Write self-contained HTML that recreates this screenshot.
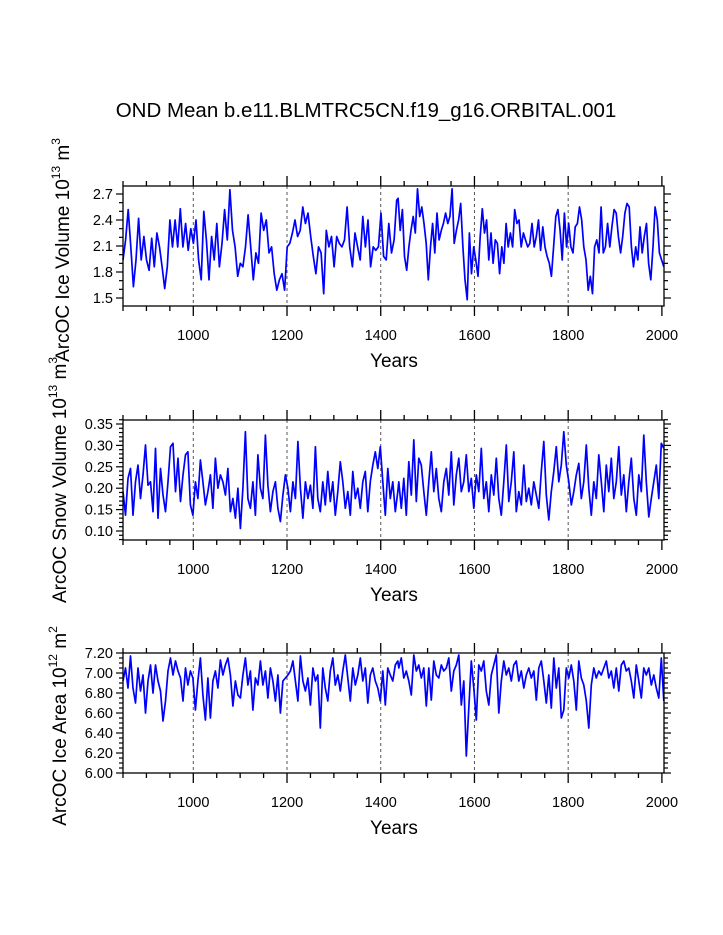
<!DOCTYPE html>
<html><head><meta charset="utf-8"><style>
html,body{margin:0;padding:0;background:#fff;}
svg{display:block;font-family:"Liberation Sans",Arial,sans-serif;}
</style></head><body>
<svg id="chart" width="723" height="935" viewBox="0 0 723 935" xmlns="http://www.w3.org/2000/svg">
<rect x="0" y="0" width="723" height="935" fill="#fff"/>
<text x="366" y="117" font-size="20.5" text-anchor="middle">OND Mean b.e11.BLMTRC5CN.f19_g16.ORBITAL.001</text>
</svg>
<script>
// ---- data ----
const iceVolSegs = [[850,1434,106],[1437,2004,124]];
const iceVolValues = [
1.94,2.17,2.52,2.09,1.63,1.94,2.42,1.94,2.21,1.94,
1.82,2.19,1.86,2.25,2.09,1.86,1.61,1.86,2.40,2.09,
2.40,2.09,2.53,2.09,2.36,2.05,2.30,2.13,2.40,1.94,
1.71,2.50,2.17,1.71,2.21,1.94,2.36,1.86,2.13,2.52,
2.17,2.75,2.28,2.09,1.75,1.90,1.86,2.09,2.46,2.09,
1.71,2.02,1.90,2.48,2.28,2.40,2.02,2.09,1.78,1.59,
1.71,1.78,1.59,2.09,2.13,2.25,2.40,2.21,2.28,2.55,
2.36,2.48,2.21,1.98,1.78,2.09,2.02,1.55,2.28,2.09,
2.21,1.86,2.21,2.13,2.09,2.17,2.55,2.09,1.86,2.25,
2.09,1.94,2.44,2.09,2.40,1.86,2.09,2.05,2.09,2.48,
1.98,1.94,2.36,2.02,2.17,2.63,
2.65,2.28,2.52,1.98,1.82,2.09,2.28,2.44,2.25,2.76,
2.44,2.55,2.36,2.13,1.71,2.09,2.36,2.02,2.48,2.17,
2.28,2.36,2.48,2.36,2.44,2.76,2.13,2.28,2.40,2.59,
2.09,1.71,1.48,2.25,1.78,2.09,1.94,1.75,2.21,2.53,
2.25,2.40,1.94,2.25,1.90,2.17,2.13,1.78,2.09,1.90,
2.36,2.09,2.25,2.09,2.52,2.36,2.40,2.09,2.25,2.17,
2.09,2.13,2.36,2.09,2.21,2.40,2.05,2.32,2.09,1.98,
1.90,1.75,2.09,2.44,2.52,2.28,1.94,2.48,2.09,2.36,
2.09,2.02,2.32,2.36,2.55,2.40,2.09,1.94,1.59,1.75,
1.55,2.09,2.17,2.02,2.55,2.02,2.09,2.36,2.09,2.32,
2.52,2.48,2.21,2.02,2.21,2.48,2.59,2.55,2.09,1.86,
2.09,1.94,2.32,2.02,2.21,2.36,1.90,1.71,2.09,2.55,
2.40,2.02,1.94,1.86];
const iceVolTicks = [1.5,1.8,2.1,2.4,2.7];
const iceVolTickLabels = ["1.5","1.8","2.1","2.4","2.7"];

const snowVolSegs = [[850,1436.4,111],[1438.6,2004,107]];
const snowVolValues = [
.192,.137,.223,.246,.137,.215,.254,.176,.231,.301,
.207,.215,.145,.293,.130,.246,.184,.145,.215,.297,
.305,.192,.270,.169,.231,.278,.285,.161,.137,.215,
.176,.266,.215,.161,.192,.231,.153,.270,.200,.231,
.215,.184,.246,.145,.176,.130,.200,.106,.200,.332,
.176,.153,.215,.137,.278,.200,.176,.324,.207,.145,
.192,.215,.153,.122,.184,.231,.200,.145,.215,.176,
.309,.200,.130,.215,.176,.207,.153,.297,.176,.145,
.215,.161,.239,.169,.215,.137,.192,.262,.215,.153,
.192,.137,.239,.176,.200,.153,.215,.239,.145,.215,
.254,.285,.246,.297,.215,.137,.246,.176,.215,.145,
.192,
.215,.153,.223,.137,.262,.184,.313,.169,.270,.254,
.192,.137,.215,.285,.192,.246,.176,.145,.215,.246,
.184,.285,.161,.231,.270,.192,.215,.278,.192,.223,
.153,.231,.192,.293,.176,.215,.145,.231,.184,.270,
.176,.137,.215,.301,.169,.215,.285,.145,.192,.161,
.254,.169,.200,.161,.215,.184,.153,.239,.309,.184,
.126,.192,.239,.297,.215,.254,.332,.254,.215,.161,
.192,.231,.258,.176,.215,.301,.200,.137,.215,.176,
.278,.215,.145,.254,.192,.270,.176,.215,.297,.184,
.231,.145,.215,.270,.176,.137,.231,.192,.324,.215,
.133,.176,.215,.254,.176,.305,.293];
const snowVolTicks = [0.10,0.15,0.20,0.25,0.30,0.35];
const snowVolTickLabels = ["0.10","0.15","0.20","0.25","0.30","0.35"];

const iceAreaSegs = [[850,1436.4,111],[1438.6,2004,107]];
const iceAreaValues = [
6.92,7.05,6.85,7.17,6.85,6.70,7.05,6.82,6.98,6.60,
6.92,7.08,6.80,7.08,6.92,6.82,6.52,6.72,7.02,7.15,
6.98,7.12,7.02,6.95,6.72,7.05,6.88,7.02,6.95,6.63,
6.92,7.15,6.78,6.53,6.95,6.55,6.92,7.02,6.85,7.13,
6.98,7.08,7.15,6.98,6.67,6.92,6.78,6.75,6.98,7.15,
6.88,7.02,6.63,6.95,6.88,7.12,6.88,7.02,6.75,7.05,
6.92,6.72,6.98,6.60,6.92,6.95,6.98,7.02,7.12,6.92,
6.72,7.17,6.92,6.82,6.95,6.68,7.05,6.92,6.98,6.45,
7.05,6.85,6.72,7.02,7.15,6.88,6.98,6.82,7.02,7.18,
6.95,6.72,7.05,6.88,6.98,7.15,6.92,7.05,6.70,6.98,
7.05,6.92,6.85,6.72,7.02,6.68,7.05,6.98,6.92,7.08,
7.12,
7.05,7.15,6.95,7.02,6.92,6.78,7.18,7.02,7.08,6.95,
7.05,6.67,7.05,6.73,7.12,6.98,6.95,7.08,7.02,7.05,
7.15,6.82,7.02,7.08,7.18,6.68,6.92,6.17,6.65,7.12,
6.85,6.53,7.08,7.02,7.12,6.82,6.68,6.98,7.08,7.18,
6.60,6.92,7.12,6.98,7.05,6.92,7.08,7.12,6.92,7.02,
6.85,6.98,7.05,6.95,7.02,6.73,7.05,7.12,6.92,6.70,
6.98,6.65,7.15,6.85,7.05,6.55,6.63,7.05,6.95,7.08,
6.92,6.63,7.12,6.95,6.88,6.72,6.45,6.88,7.05,6.95,
7.02,6.98,7.05,7.12,6.95,7.02,6.85,7.05,6.82,7.08,
7.12,7.02,7.05,6.92,6.75,7.08,6.92,6.75,7.05,6.98,
7.05,6.88,6.98,6.85,6.75,7.15,6.72];
const iceAreaTicks = [6.00,6.20,6.40,6.60,6.80,7.00,7.20];
const iceAreaTickLabels = ["6.00","6.20","6.40","6.60","6.80","7.00","7.20"];

const xTicks = [1000,1200,1400,1600,1800,2000];
const xTickLabels = ["1000","1200","1400","1600","1800","2000"];

// ---- drawing ----
const NS = "http://www.w3.org/2000/svg";
const svg = document.getElementById("chart");
const X0 = 123, X1 = 664, YR0 = 850, YR1 = 2004.5;
function xScale(yr){ return X0 + (yr - YR0) * (X1 - X0) / (YR1 - YR0); }
function mk(tag, attrs, parent){
  const e = document.createElementNS(NS, tag);
  for (const k in attrs) e.setAttribute(k, attrs[k]);
  (parent || svg).appendChild(e);
  return e;
}
function yearsFrom(segs){
  const out = [];
  segs.forEach(s => { for (let i = 0; i < s[2]; i++) out.push(s[0] + (s[1] - s[0]) * i / (s[2] - 1)); });
  return out;
}

function panel(cfg){
  const g = mk("g", {});
  
  
  const top = cfg.top, bot = cfg.top + 120;
  function yScale(v){ return cfg.y0px + (v - cfg.v0) * (cfg.y1px - cfg.y0px) / (cfg.v1 - cfg.v0); }
  [1000,1200,1400,1600,1800].forEach(yr => {
    const l = mk("line", {x1: xScale(yr), x2: xScale(yr), y1: top, y2: bot, stroke: "#555", "stroke-width": 1, "stroke-dasharray": "3,3"}, g);
    
    
  });
  const yrs = yearsFrom(cfg.segs);
  let d = "";
  cfg.values.forEach((v, i) => { d += (i ? "L" : "M") + xScale(yrs[i]).toFixed(1) + "," + yScale(v).toFixed(1); });
  const p = mk("path", {d: d, fill: "none", stroke: "#0000ff", "stroke-width": 1.7, "stroke-linejoin": "round"}, g);
  
  
  const f = mk("rect", {x: X0, y: top, width: X1 - X0, height: 120, fill: "none", stroke: "#000", "stroke-width": 1.3}, g);
  
  
  for (let yr = 850; yr <= 2000; yr += 50) {
    const major = (yr % 200 === 0);
    const len = major ? 10 : 5, x = xScale(yr);
    mk("line", {x1: x, x2: x, y1: bot, y2: bot + len, stroke: "#000", "stroke-width": 1.3}, g);
    mk("line", {x1: x, x2: x, y1: top, y2: top - len, stroke: "#000", "stroke-width": 1.3}, g);
  }
  xTicks.forEach((yr, i) => {
    const t = mk("text", {x: xScale(yr), y: bot + 34, "font-size": 14.5, "text-anchor": "middle"}, g);
    t.textContent = xTickLabels[i];
    
    
  });
  const xt = mk("text", {x: 394, y: bot + 61, "font-size": 19, "text-anchor": "middle"}, g);
  xt.textContent = "Years";
  
  
  const n = Math.round((cfg.minorMax - cfg.minorMin) / cfg.minorStep);
  for (let k = 0; k <= n; k++) {
    const v = cfg.minorMin + k * cfg.minorStep, y = yScale(v);
    if (y < top - 0.5 || y > bot + 0.5) continue;
    const major = cfg.ticks.some(t => Math.abs(t - v) < cfg.minorStep / 10);
    const len = major ? 7 : 4;
    mk("line", {x1: X0, x2: X0 - len, y1: y, y2: y, stroke: "#000", "stroke-width": 1.2}, g);
    mk("line", {x1: X1, x2: X1 + len, y1: y, y2: y, stroke: "#000", "stroke-width": 1.2}, g);
  }
  cfg.ticks.forEach((v, i) => {
    const t = mk("text", {x: X0 - 10, y: yScale(v) + 5, "font-size": 14.5, "text-anchor": "end"}, g);
    t.textContent = cfg.tickLabels[i];
    
    
  });
  const yt = mk("text", {x: 0, y: 0, "font-size": 19, "text-anchor": "middle", transform: "translate(" + cfg.titleX + "," + cfg.titleY + ") rotate(-90)"}, g);
  
  
  const a = mk("tspan", {}, yt); a.textContent = cfg.title + " 10";
  const b = mk("tspan", {dy: -9, "font-size": 12}, yt); b.textContent = cfg.exp;
  const c = mk("tspan", {dy: 9}, yt); c.textContent = " m";
  const e = mk("tspan", {dy: -9, "font-size": 12}, yt); e.textContent = cfg.unitExp;
}

panel({name: "ice-volume-panel", top: 186, segs: iceVolSegs, values: iceVolValues,
  v0: 2.7, y0px: 194, v1: 1.5, y1px: 298, ticks: iceVolTicks, tickLabels: iceVolTickLabels,
  minorMin: 1.4, minorMax: 2.8, minorStep: 0.1,
  title: "ArcOC Ice Volume", exp: "13", unitExp: "3", titleX: 69, titleY: 250});
panel({name: "snow-volume-panel", top: 420, segs: snowVolSegs, values: snowVolValues,
  v0: 0.35, y0px: 424, v1: 0.10, y1px: 531, ticks: snowVolTicks, tickLabels: snowVolTickLabels,
  minorMin: 0.08, minorMax: 0.36, minorStep: 0.01,
  title: "ArcOC Snow Volume", exp: "13", unitExp: "3", titleX: 66, titleY: 480});
panel({name: "ice-area-panel", top: 653, segs: iceAreaSegs, values: iceAreaValues,
  v0: 7.2, y0px: 653, v1: 6.0, y1px: 773, ticks: iceAreaTicks, tickLabels: iceAreaTickLabels,
  minorMin: 6.0, minorMax: 7.2, minorStep: 0.05,
  title: "ArcOC Ice Area", exp: "12", unitExp: "2", titleX: 66, titleY: 726});
</script>
</body></html>
